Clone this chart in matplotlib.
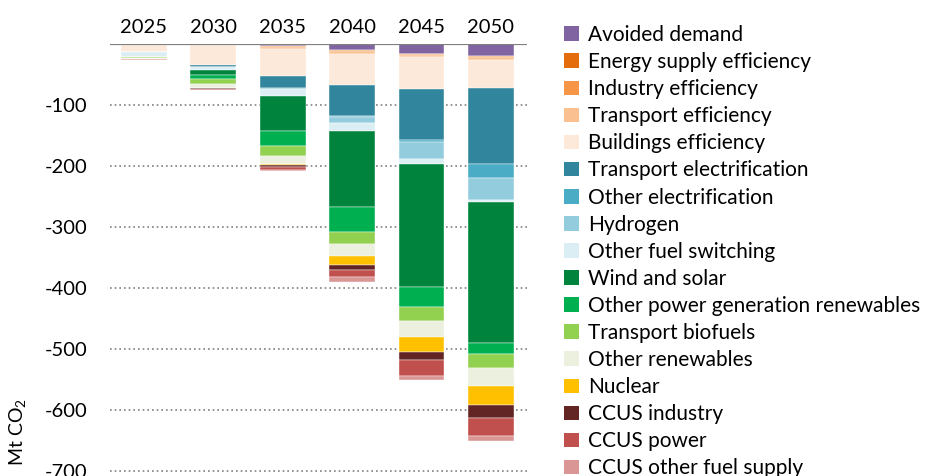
import matplotlib
matplotlib.use("Agg")
import matplotlib.pyplot as plt
import numpy as np
from matplotlib.patches import Patch

years = ["2025", "2030", "2035", "2040", "2045", "2050"]

# CO2 reductions by measure (Mt CO2), negative = below baseline
avoided_demand = [0, 0, -3, -10, -16, -20]
energy_supply_eff = [-1, -1, -1, -1, -1, -1]
industry_eff = [0, -1, -1, -1, -1, -1]
transport_eff = [0, 0, -3, -4, -4, -4]
buildings_eff = [-12, -32, -44, -51, -51, -46]
transport_elec = [0, -4, -20, -51, -85, -125]
other_elec = [0, 0, -2, -1, -3, -23]
hydrogen = [0, 0, 0, -10, -28, -36]
other_fuel_switching = [-8, -4, -11, -13, -8, -3]
wind_solar = [0, -9, -57, -125, -202, -231]
other_power_ren = [0, -6, -26, -41, -33, -18]
transport_biofuels = [-2, -8, -16, -20, -23, -23]
other_renewables = [-2, -7, -13, -20, -25, -30]
nuclear = [0, 0, -1, -15, -26, -31]
ccus_industry = [0, -1, -3, -7, -13, -21]
ccus_power = [0, -2, -5, -13, -25, -30]
ccus_other = [-2, -1, -3, -7, -7, -8]

series = [
    ("Avoided demand", avoided_demand, "#8064A2"),
    ("Energy supply efficiency", energy_supply_eff, "#E46C0A"),
    ("Industry efficiency", industry_eff, "#F79646"),
    ("Transport efficiency", transport_eff, "#FAC090"),
    ("Buildings efficiency", buildings_eff, "#FDE9D9"),
    ("Transport electrification", transport_elec, "#31859C"),
    ("Other electrification", other_elec, "#4BACC6"),
    ("Hydrogen", hydrogen, "#93CDDD"),
    ("Other fuel switching", other_fuel_switching, "#DAEEF3"),
    ("Wind and solar", wind_solar, "#00843D"),
    ("Other power generation renewables", other_power_ren, "#00B050"),
    ("Transport biofuels", transport_biofuels, "#92D050"),
    ("Other renewables", other_renewables, "#EBF1DE"),
    ("Nuclear", nuclear, "#FFC000"),
    ("CCUS industry", ccus_industry, "#632523"),
    ("CCUS power", ccus_power, "#C0504D"),
    ("CCUS other fuel supply", ccus_other, "#D99694"),
]

plt.rcParams['font.family'] = ['Lato', 'DejaVu Sans']
plt.rcParams['mathtext.default'] = 'regular'
plt.rcParams['axes.unicode_minus'] = False

fig = plt.figure(figsize=(9.26, 4.76), dpi=100)
ax = fig.add_axes([110 / 926, 1 - 475 / 476, 417 / 926, 431 / 476])

x = np.arange(len(years))
bottom = np.zeros(len(years))
for name, vals, col in series:
    v = np.array(vals, dtype=float)
    ax.bar(x, v, 0.66, bottom=bottom, color=col, edgecolor="white",
           linewidth=0.3, zorder=2)
    bottom += v

ax.set_xlim(-0.49, 5.52)
ax.set_ylim(-707, 0)
ax.set_yticks([-100, -200, -300, -400, -500, -600, -700])
for t in [-100, -200, -300, -400, -500, -600, -700]:
    ax.axhline(t, color="#808080", lw=1.2, ls=(0, (1, 1.8)), zorder=1)
ax.axhline(0, color="#808080", lw=1.6, zorder=3)

ax.xaxis.tick_top()
ax.set_xticks(x)
ax.set_xticklabels(years)
ax.tick_params(axis="x", length=0, pad=6, labelsize=14.5)
ax.tick_params(axis="y", length=0, pad=16, labelsize=14.5)
for s in ax.spines.values():
    s.set_visible(False)

fig.text(17 / 926, 1 - 432 / 476, "Mt CO$_2$", rotation=90, fontsize=14,
         ha="center", va="center")

handles = [Patch(facecolor=c, edgecolor="none") for _, _, c in series]
labels = [n for n, _, _ in series]
fig.legend(handles, labels, loc="upper left",
           bbox_to_anchor=(564 / 926, 1 - 25 / 476), frameon=False,
           fontsize=15, handlelength=0.7, handleheight=0.7,
           handletextpad=0.45, labelspacing=0.34, borderaxespad=0,
           borderpad=0)

fig.savefig("out.png", dpi=100)
